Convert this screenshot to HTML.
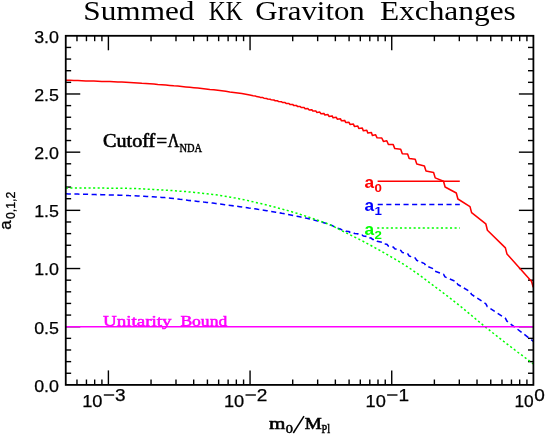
<!DOCTYPE html>
<html><head><meta charset="utf-8"><title>Summed KK Graviton Exchanges</title>
<style>
html,body{margin:0;padding:0;background:#fff;}
body{width:547px;height:436px;overflow:hidden;}
svg{display:block;will-change:transform;}
text{font-family:"Liberation Sans",sans-serif;fill:#000;}
.tk{font-size:16.5px;stroke:#000;stroke-width:0.25px;}
.ser,.ser text{font-family:"Liberation Serif",serif;}
</style></head><body>
<svg width="547" height="436" viewBox="0 0 547 436">
<rect width="547" height="436" fill="#fff"/>
<g class="ser" font-size="26.8">
<text x="83.3" y="20.3" textLength="111.2" lengthAdjust="spacingAndGlyphs">Summed</text>
<text x="208.7" y="20.3" textLength="33.9" lengthAdjust="spacingAndGlyphs">KK</text>
<text x="255.2" y="20.3" textLength="109.6" lengthAdjust="spacingAndGlyphs">Graviton</text>
<text x="379.9" y="20.3" textLength="135.9" lengthAdjust="spacingAndGlyphs">Exchanges</text>
</g>
<g><line x1="76.97" y1="384.90" x2="76.97" y2="379.50" stroke="#000" stroke-width="1.4"/><line x1="76.97" y1="35.80" x2="76.97" y2="41.20" stroke="#000" stroke-width="1.4"/><line x1="86.45" y1="384.90" x2="86.45" y2="379.50" stroke="#000" stroke-width="1.4"/><line x1="86.45" y1="35.80" x2="86.45" y2="41.20" stroke="#000" stroke-width="1.4"/><line x1="94.67" y1="384.90" x2="94.67" y2="379.50" stroke="#000" stroke-width="1.4"/><line x1="94.67" y1="35.80" x2="94.67" y2="41.20" stroke="#000" stroke-width="1.4"/><line x1="101.91" y1="384.90" x2="101.91" y2="379.50" stroke="#000" stroke-width="1.4"/><line x1="101.91" y1="35.80" x2="101.91" y2="41.20" stroke="#000" stroke-width="1.4"/><line x1="108.40" y1="384.90" x2="108.40" y2="370.40" stroke="#000" stroke-width="1.4"/><line x1="108.40" y1="35.80" x2="108.40" y2="50.30" stroke="#000" stroke-width="1.4"/><line x1="151.04" y1="384.90" x2="151.04" y2="379.50" stroke="#000" stroke-width="1.4"/><line x1="151.04" y1="35.80" x2="151.04" y2="41.20" stroke="#000" stroke-width="1.4"/><line x1="175.99" y1="384.90" x2="175.99" y2="379.50" stroke="#000" stroke-width="1.4"/><line x1="175.99" y1="35.80" x2="175.99" y2="41.20" stroke="#000" stroke-width="1.4"/><line x1="193.69" y1="384.90" x2="193.69" y2="379.50" stroke="#000" stroke-width="1.4"/><line x1="193.69" y1="35.80" x2="193.69" y2="41.20" stroke="#000" stroke-width="1.4"/><line x1="207.42" y1="384.90" x2="207.42" y2="379.50" stroke="#000" stroke-width="1.4"/><line x1="207.42" y1="35.80" x2="207.42" y2="41.20" stroke="#000" stroke-width="1.4"/><line x1="218.64" y1="384.90" x2="218.64" y2="379.50" stroke="#000" stroke-width="1.4"/><line x1="218.64" y1="35.80" x2="218.64" y2="41.20" stroke="#000" stroke-width="1.4"/><line x1="228.12" y1="384.90" x2="228.12" y2="379.50" stroke="#000" stroke-width="1.4"/><line x1="228.12" y1="35.80" x2="228.12" y2="41.20" stroke="#000" stroke-width="1.4"/><line x1="236.34" y1="384.90" x2="236.34" y2="379.50" stroke="#000" stroke-width="1.4"/><line x1="236.34" y1="35.80" x2="236.34" y2="41.20" stroke="#000" stroke-width="1.4"/><line x1="243.58" y1="384.90" x2="243.58" y2="379.50" stroke="#000" stroke-width="1.4"/><line x1="243.58" y1="35.80" x2="243.58" y2="41.20" stroke="#000" stroke-width="1.4"/><line x1="250.06" y1="384.90" x2="250.06" y2="370.40" stroke="#000" stroke-width="1.4"/><line x1="250.06" y1="35.80" x2="250.06" y2="50.30" stroke="#000" stroke-width="1.4"/><line x1="292.71" y1="384.90" x2="292.71" y2="379.50" stroke="#000" stroke-width="1.4"/><line x1="292.71" y1="35.80" x2="292.71" y2="41.20" stroke="#000" stroke-width="1.4"/><line x1="317.66" y1="384.90" x2="317.66" y2="379.50" stroke="#000" stroke-width="1.4"/><line x1="317.66" y1="35.80" x2="317.66" y2="41.20" stroke="#000" stroke-width="1.4"/><line x1="335.36" y1="384.90" x2="335.36" y2="379.50" stroke="#000" stroke-width="1.4"/><line x1="335.36" y1="35.80" x2="335.36" y2="41.20" stroke="#000" stroke-width="1.4"/><line x1="349.09" y1="384.90" x2="349.09" y2="379.50" stroke="#000" stroke-width="1.4"/><line x1="349.09" y1="35.80" x2="349.09" y2="41.20" stroke="#000" stroke-width="1.4"/><line x1="360.30" y1="384.90" x2="360.30" y2="379.50" stroke="#000" stroke-width="1.4"/><line x1="360.30" y1="35.80" x2="360.30" y2="41.20" stroke="#000" stroke-width="1.4"/><line x1="369.79" y1="384.90" x2="369.79" y2="379.50" stroke="#000" stroke-width="1.4"/><line x1="369.79" y1="35.80" x2="369.79" y2="41.20" stroke="#000" stroke-width="1.4"/><line x1="378.00" y1="384.90" x2="378.00" y2="379.50" stroke="#000" stroke-width="1.4"/><line x1="378.00" y1="35.80" x2="378.00" y2="41.20" stroke="#000" stroke-width="1.4"/><line x1="385.25" y1="384.90" x2="385.25" y2="379.50" stroke="#000" stroke-width="1.4"/><line x1="385.25" y1="35.80" x2="385.25" y2="41.20" stroke="#000" stroke-width="1.4"/><line x1="391.73" y1="384.90" x2="391.73" y2="370.40" stroke="#000" stroke-width="1.4"/><line x1="391.73" y1="35.80" x2="391.73" y2="50.30" stroke="#000" stroke-width="1.4"/><line x1="434.38" y1="384.90" x2="434.38" y2="379.50" stroke="#000" stroke-width="1.4"/><line x1="434.38" y1="35.80" x2="434.38" y2="41.20" stroke="#000" stroke-width="1.4"/><line x1="459.32" y1="384.90" x2="459.32" y2="379.50" stroke="#000" stroke-width="1.4"/><line x1="459.32" y1="35.80" x2="459.32" y2="41.20" stroke="#000" stroke-width="1.4"/><line x1="477.02" y1="384.90" x2="477.02" y2="379.50" stroke="#000" stroke-width="1.4"/><line x1="477.02" y1="35.80" x2="477.02" y2="41.20" stroke="#000" stroke-width="1.4"/><line x1="490.75" y1="384.90" x2="490.75" y2="379.50" stroke="#000" stroke-width="1.4"/><line x1="490.75" y1="35.80" x2="490.75" y2="41.20" stroke="#000" stroke-width="1.4"/><line x1="501.97" y1="384.90" x2="501.97" y2="379.50" stroke="#000" stroke-width="1.4"/><line x1="501.97" y1="35.80" x2="501.97" y2="41.20" stroke="#000" stroke-width="1.4"/><line x1="511.46" y1="384.90" x2="511.46" y2="379.50" stroke="#000" stroke-width="1.4"/><line x1="511.46" y1="35.80" x2="511.46" y2="41.20" stroke="#000" stroke-width="1.4"/><line x1="519.67" y1="384.90" x2="519.67" y2="379.50" stroke="#000" stroke-width="1.4"/><line x1="519.67" y1="35.80" x2="519.67" y2="41.20" stroke="#000" stroke-width="1.4"/><line x1="526.92" y1="384.90" x2="526.92" y2="379.50" stroke="#000" stroke-width="1.4"/><line x1="526.92" y1="35.80" x2="526.92" y2="41.20" stroke="#000" stroke-width="1.4"/><line x1="65.75" y1="373.26" x2="71.15" y2="373.26" stroke="#000" stroke-width="1.4"/><line x1="533.40" y1="373.26" x2="528.00" y2="373.26" stroke="#000" stroke-width="1.4"/><line x1="65.75" y1="361.63" x2="71.15" y2="361.63" stroke="#000" stroke-width="1.4"/><line x1="533.40" y1="361.63" x2="528.00" y2="361.63" stroke="#000" stroke-width="1.4"/><line x1="65.75" y1="349.99" x2="71.15" y2="349.99" stroke="#000" stroke-width="1.4"/><line x1="533.40" y1="349.99" x2="528.00" y2="349.99" stroke="#000" stroke-width="1.4"/><line x1="65.75" y1="338.35" x2="71.15" y2="338.35" stroke="#000" stroke-width="1.4"/><line x1="533.40" y1="338.35" x2="528.00" y2="338.35" stroke="#000" stroke-width="1.4"/><line x1="65.75" y1="326.72" x2="80.25" y2="326.72" stroke="#000" stroke-width="1.4"/><line x1="533.40" y1="326.72" x2="518.90" y2="326.72" stroke="#000" stroke-width="1.4"/><line x1="65.75" y1="315.08" x2="71.15" y2="315.08" stroke="#000" stroke-width="1.4"/><line x1="533.40" y1="315.08" x2="528.00" y2="315.08" stroke="#000" stroke-width="1.4"/><line x1="65.75" y1="303.44" x2="71.15" y2="303.44" stroke="#000" stroke-width="1.4"/><line x1="533.40" y1="303.44" x2="528.00" y2="303.44" stroke="#000" stroke-width="1.4"/><line x1="65.75" y1="291.81" x2="71.15" y2="291.81" stroke="#000" stroke-width="1.4"/><line x1="533.40" y1="291.81" x2="528.00" y2="291.81" stroke="#000" stroke-width="1.4"/><line x1="65.75" y1="280.17" x2="71.15" y2="280.17" stroke="#000" stroke-width="1.4"/><line x1="533.40" y1="280.17" x2="528.00" y2="280.17" stroke="#000" stroke-width="1.4"/><line x1="65.75" y1="268.53" x2="80.25" y2="268.53" stroke="#000" stroke-width="1.4"/><line x1="533.40" y1="268.53" x2="518.90" y2="268.53" stroke="#000" stroke-width="1.4"/><line x1="65.75" y1="256.90" x2="71.15" y2="256.90" stroke="#000" stroke-width="1.4"/><line x1="533.40" y1="256.90" x2="528.00" y2="256.90" stroke="#000" stroke-width="1.4"/><line x1="65.75" y1="245.26" x2="71.15" y2="245.26" stroke="#000" stroke-width="1.4"/><line x1="533.40" y1="245.26" x2="528.00" y2="245.26" stroke="#000" stroke-width="1.4"/><line x1="65.75" y1="233.62" x2="71.15" y2="233.62" stroke="#000" stroke-width="1.4"/><line x1="533.40" y1="233.62" x2="528.00" y2="233.62" stroke="#000" stroke-width="1.4"/><line x1="65.75" y1="221.99" x2="71.15" y2="221.99" stroke="#000" stroke-width="1.4"/><line x1="533.40" y1="221.99" x2="528.00" y2="221.99" stroke="#000" stroke-width="1.4"/><line x1="65.75" y1="210.35" x2="80.25" y2="210.35" stroke="#000" stroke-width="1.4"/><line x1="533.40" y1="210.35" x2="518.90" y2="210.35" stroke="#000" stroke-width="1.4"/><line x1="65.75" y1="198.71" x2="71.15" y2="198.71" stroke="#000" stroke-width="1.4"/><line x1="533.40" y1="198.71" x2="528.00" y2="198.71" stroke="#000" stroke-width="1.4"/><line x1="65.75" y1="187.08" x2="71.15" y2="187.08" stroke="#000" stroke-width="1.4"/><line x1="533.40" y1="187.08" x2="528.00" y2="187.08" stroke="#000" stroke-width="1.4"/><line x1="65.75" y1="175.44" x2="71.15" y2="175.44" stroke="#000" stroke-width="1.4"/><line x1="533.40" y1="175.44" x2="528.00" y2="175.44" stroke="#000" stroke-width="1.4"/><line x1="65.75" y1="163.80" x2="71.15" y2="163.80" stroke="#000" stroke-width="1.4"/><line x1="533.40" y1="163.80" x2="528.00" y2="163.80" stroke="#000" stroke-width="1.4"/><line x1="65.75" y1="152.17" x2="80.25" y2="152.17" stroke="#000" stroke-width="1.4"/><line x1="533.40" y1="152.17" x2="518.90" y2="152.17" stroke="#000" stroke-width="1.4"/><line x1="65.75" y1="140.53" x2="71.15" y2="140.53" stroke="#000" stroke-width="1.4"/><line x1="533.40" y1="140.53" x2="528.00" y2="140.53" stroke="#000" stroke-width="1.4"/><line x1="65.75" y1="128.89" x2="71.15" y2="128.89" stroke="#000" stroke-width="1.4"/><line x1="533.40" y1="128.89" x2="528.00" y2="128.89" stroke="#000" stroke-width="1.4"/><line x1="65.75" y1="117.26" x2="71.15" y2="117.26" stroke="#000" stroke-width="1.4"/><line x1="533.40" y1="117.26" x2="528.00" y2="117.26" stroke="#000" stroke-width="1.4"/><line x1="65.75" y1="105.62" x2="71.15" y2="105.62" stroke="#000" stroke-width="1.4"/><line x1="533.40" y1="105.62" x2="528.00" y2="105.62" stroke="#000" stroke-width="1.4"/><line x1="65.75" y1="93.98" x2="80.25" y2="93.98" stroke="#000" stroke-width="1.4"/><line x1="533.40" y1="93.98" x2="518.90" y2="93.98" stroke="#000" stroke-width="1.4"/><line x1="65.75" y1="82.35" x2="71.15" y2="82.35" stroke="#000" stroke-width="1.4"/><line x1="533.40" y1="82.35" x2="528.00" y2="82.35" stroke="#000" stroke-width="1.4"/><line x1="65.75" y1="70.71" x2="71.15" y2="70.71" stroke="#000" stroke-width="1.4"/><line x1="533.40" y1="70.71" x2="528.00" y2="70.71" stroke="#000" stroke-width="1.4"/><line x1="65.75" y1="59.07" x2="71.15" y2="59.07" stroke="#000" stroke-width="1.4"/><line x1="533.40" y1="59.07" x2="528.00" y2="59.07" stroke="#000" stroke-width="1.4"/><line x1="65.75" y1="47.44" x2="71.15" y2="47.44" stroke="#000" stroke-width="1.4"/><line x1="533.40" y1="47.44" x2="528.00" y2="47.44" stroke="#000" stroke-width="1.4"/></g>
<g fill="none" stroke-linejoin="round">
<path d="M65.8 80.2 L69.8 80.3 L73.8 80.5 L77.8 80.6 L81.8 80.7 L85.8 80.9 L89.8 81.0 L93.8 81.1 L97.8 81.2 L101.8 81.4 L105.8 81.5 L109.8 81.6 L113.8 81.8 L117.8 82.0 L121.8 82.1 L125.8 82.3 L129.8 82.5 L133.8 82.7 L137.8 82.9 L141.8 83.2 L145.8 83.4 L149.8 83.7 L153.8 84.0 L157.8 84.4 L161.8 84.7 L165.8 85.0 L169.8 85.4 L173.8 85.8 L177.8 86.1 L181.8 86.5 L185.8 86.9 L189.8 87.3 L193.8 87.7 L197.8 88.1 L201.8 88.5 L205.8 88.9 L209.8 89.4 L213.8 89.8 L217.8 90.3 L221.8 90.8 L225.8 91.3 L229.8 91.9 L233.8 92.4 L237.8 93.0 L241.8 93.6 L245.8 94.3 L249.8 95.0 L252.0 95.4 L253.0 95.8 L255.6 96.1 L256.6 96.6 L259.2 96.9 L260.2 97.4 L262.9 97.6 L263.9 98.2 L266.5 98.4 L267.5 99.0 L270.2 99.2 L271.2 99.8 L273.9 100.0 L274.9 100.7 L277.6 100.8 L278.6 101.6 L281.4 101.7 L282.4 102.5 L285.1 102.6 L286.1 103.4 L288.9 103.5 L289.9 104.4 L292.6 104.4 L293.6 105.4 L296.4 105.4 L297.4 106.4 L300.2 106.5 L301.2 107.5 L304.1 107.5 L305.1 108.7 L308.0 108.6 L309.0 109.9 L311.9 109.8 L312.9 111.1 L315.8 110.9 L316.8 112.4 L319.8 112.1 L320.8 113.7 L323.9 113.4 L324.9 115.0 L328.0 114.6 L329.0 116.4 L332.1 115.9 L333.1 117.8 L336.3 117.3 L337.3 119.2 L340.5 118.8 L341.5 120.8 L344.7 120.4 L345.7 122.5 L349.0 122.2 L350.0 124.4 L353.4 124.1 L354.4 126.4 L357.8 126.0 L358.8 128.5 L362.3 128.1 L363.3 130.7 L366.8 130.2 L367.8 133.0 L371.4 132.5 L372.4 135.4 L375.5 134.7 L377.1 137.8 L381.8 138.0 L383.4 141.4 L386.8 140.8 L388.4 144.5 L393.2 144.6 L394.8 148.6 L400.7 149.3 L402.3 153.7 L407.6 153.9 L409.2 158.5 L415.2 159.2 L416.8 164.1 L424.4 165.9 L426.0 171.1 L433.6 172.5 L435.2 177.9 L443.5 181.2 L445.1 187.0 L456.3 193.0 L457.9 199.0 L470.0 206.6 L471.6 212.6 L485.8 223.8 L487.4 230.2 L505.4 247.9 L507.0 254.1 L531.6 281.5 L533.2 287.2" stroke="#f00" stroke-width="1.55"/>
<path d="M65.8 193.8 L68.8 193.9 L71.8 194.0 L74.8 194.0 L77.8 194.1 L80.8 194.2 L83.8 194.3 L86.8 194.3 L89.8 194.4 L92.8 194.5 L95.8 194.6 L98.8 194.6 L101.8 194.7 L104.8 194.8 L107.8 194.9 L110.8 195.0 L113.8 195.0 L116.8 195.1 L119.8 195.2 L122.8 195.3 L125.8 195.4 L128.8 195.6 L131.8 195.7 L134.8 195.8 L137.8 195.9 L140.8 196.1 L143.8 196.2 L146.8 196.4 L149.8 196.6 L152.8 196.8 L155.8 197.0 L158.8 197.2 L161.8 197.4 L164.8 197.6 L167.8 197.9 L170.8 198.2 L173.8 198.6 L176.8 198.9 L179.8 199.3 L182.8 199.6 L185.8 200.0 L188.8 200.4 L191.8 200.7 L194.8 201.0 L197.8 201.4 L200.8 201.7 L203.8 202.1 L206.8 202.4 L209.8 202.8 L212.8 203.1 L215.8 203.5 L218.8 203.9 L221.8 204.3 L224.8 204.7 L227.8 205.1 L230.8 205.5 L233.8 205.9 L236.8 206.3 L239.8 206.7 L242.8 207.1 L245.8 207.5 L248.8 208.0 L251.8 208.4 L254.8 208.8 L257.8 209.3 L260.8 209.7 L263.8 210.2 L266.8 210.7 L269.8 211.2 L272.8 211.7 L275.8 212.2 L278.8 212.7 L281.8 213.3 L284.8 213.8 L287.8 214.4 L290.8 215.0 L293.8 215.6 L296.8 216.2 L299.8 216.8 L302.8 217.4 L305.8 218.1 L308.8 218.7 L311.8 219.4 L314.8 220.2 L317.8 220.9 L320.8 221.8 L323.8 222.7 L326.8 223.7 L329.8 224.7 L331.9 225.4 L333.3 226.2 L336.1 227.2 L337.5 228.1 L340.3 228.9 L341.7 229.8 L344.5 230.3 L345.9 231.2 L348.8 231.5 L350.2 232.5 L353.2 232.6 L354.6 233.6 L357.6 233.7 L359.0 234.8 L362.1 235.0 L363.5 236.1 L366.6 236.4 L368.0 237.7 L371.2 238.1 L372.6 239.4 L375.6 239.8 L377.0 241.2 L381.9 242.3 L383.3 243.8 L386.9 244.3 L388.3 246.0 L393.3 247.1 L394.7 248.8 L400.8 250.4 L402.2 252.4 L407.7 253.8 L409.1 255.9 L415.3 258.1 L416.7 260.3 L424.5 263.6 L425.9 265.9 L433.7 268.9 L435.1 271.3 L443.6 274.3 L445.0 276.9 L456.4 281.8 L457.8 284.5 L470.1 291.6 L471.5 294.4 L485.9 303.8 L487.3 306.6 L505.5 318.4 L506.9 321.2 L533.4 341.3" stroke="#00f" stroke-width="1.55" stroke-dasharray="5.1 3.5"/>
<path d="M65.8 187.9 L68.8 187.9 L71.8 187.9 L74.8 188.0 L77.8 188.0 L80.8 188.0 L83.8 188.0 L86.8 188.0 L89.8 188.0 L92.8 188.1 L95.8 188.1 L98.8 188.1 L101.8 188.1 L104.8 188.1 L107.8 188.2 L110.8 188.2 L113.8 188.2 L116.8 188.2 L119.8 188.3 L122.8 188.3 L125.8 188.3 L128.8 188.4 L131.8 188.4 L134.8 188.5 L137.8 188.6 L140.8 188.7 L143.8 188.9 L146.8 189.1 L149.8 189.2 L152.8 189.4 L155.8 189.6 L158.8 189.8 L161.8 190.0 L164.8 190.1 L167.8 190.3 L170.8 190.5 L173.8 190.7 L176.8 190.9 L179.8 191.2 L182.8 191.4 L185.8 191.6 L188.8 191.9 L191.8 192.2 L194.8 192.4 L197.8 192.7 L200.8 193.0 L203.8 193.4 L206.8 193.7 L209.8 194.1 L212.8 194.4 L215.8 194.8 L218.8 195.2 L221.8 195.7 L224.8 196.2 L227.8 196.7 L230.8 197.2 L233.8 197.8 L236.8 198.3 L239.8 198.9 L242.8 199.5 L245.8 200.1 L248.8 200.8 L251.8 201.5 L254.8 202.2 L257.8 202.9 L260.8 203.6 L263.8 204.3 L266.8 205.1 L269.8 205.8 L272.8 206.6 L275.8 207.4 L278.8 208.2 L281.8 209.0 L284.8 209.8 L287.8 210.6 L290.8 211.5 L293.8 212.4 L296.8 213.3 L299.8 214.3 L302.8 215.2 L305.8 216.2 L308.8 217.2 L311.8 218.2 L314.8 219.3 L317.8 220.3 L320.8 221.4 L323.8 222.4 L326.8 223.5 L329.8 224.7 L332.8 226.1 L335.8 227.6 L338.8 229.2 L341.8 230.7 L344.8 232.2 L347.8 233.7 L350.8 235.2 L353.8 236.7 L356.8 238.1 L359.8 239.7 L362.8 241.2 L365.8 242.8 L368.8 244.4 L371.8 246.0 L374.8 247.7 L377.8 249.3 L380.8 251.0 L383.8 252.7 L386.8 254.4 L389.8 256.2 L392.8 257.9 L395.8 259.6 L398.8 261.4 L401.8 263.2 L404.8 265.1 L407.8 267.0 L410.8 269.0 L413.8 271.1 L416.8 273.2 L419.8 275.4 L422.8 277.6 L425.8 279.8 L428.8 282.1 L431.8 284.3 L434.8 286.5 L437.8 288.8 L440.8 291.0 L443.8 293.3 L446.8 295.6 L449.8 297.9 L452.8 300.3 L455.8 302.6 L458.8 305.0 L461.8 307.4 L464.8 309.9 L467.8 312.4 L470.8 314.9 L473.8 317.4 L476.8 319.9 L479.8 322.4 L482.8 324.9 L485.8 327.3 L488.8 329.7 L491.8 332.1 L494.8 334.4 L497.8 336.8 L500.8 339.1 L503.8 341.5 L506.8 343.8 L509.8 346.1 L512.8 348.4 L515.8 350.7 L518.8 353.0 L521.8 355.2 L524.8 357.5 L527.8 359.7 L530.8 362.0 L533.4 364.0" stroke="#0f0" stroke-width="1.5" stroke-dasharray="2.1 2.45"/>
<line x1="65.75" y1="326.8" x2="533.4" y2="326.8" stroke="#f0f" stroke-width="1.6"/>
<line x1="377.6" y1="181.2" x2="459.8" y2="181.2" stroke="#f00" stroke-width="1.5"/>
<line x1="377.7" y1="204.5" x2="459.8" y2="204.5" stroke="#00f" stroke-width="1.55" stroke-dasharray="5.1 3.5"/>
<line x1="377.2" y1="228" x2="459.8" y2="228" stroke="#0f0" stroke-width="1.5" stroke-dasharray="2.1 2.45"/>
</g>
<rect x="65.75" y="35.8" width="467.65" height="349.09999999999997" fill="none" stroke="#000" stroke-width="1.8"/>
<text x="34.2" y="391.7" textLength="24.8" lengthAdjust="spacingAndGlyphs" class="tk">0.0</text>
<text x="34.2" y="333.5" textLength="24.8" lengthAdjust="spacingAndGlyphs" class="tk">0.5</text>
<text x="34.2" y="275.3" textLength="24.8" lengthAdjust="spacingAndGlyphs" class="tk">1.0</text>
<text x="34.2" y="217.2" textLength="24.8" lengthAdjust="spacingAndGlyphs" class="tk">1.5</text>
<text x="34.2" y="159.0" textLength="24.8" lengthAdjust="spacingAndGlyphs" class="tk">2.0</text>
<text x="34.2" y="100.8" textLength="24.8" lengthAdjust="spacingAndGlyphs" class="tk">2.5</text>
<text x="34.2" y="42.6" textLength="24.8" lengthAdjust="spacingAndGlyphs" class="tk">3.0</text>
<text x="82.2" y="406.8" class="tk" textLength="20.3" lengthAdjust="spacingAndGlyphs">10</text><rect x="103.8" y="394.3" width="10.4" height="1.4" fill="#000"/><text x="115.1" y="400.7" class="tk" textLength="10.6" lengthAdjust="spacingAndGlyphs">3</text>
<text x="223.9" y="406.8" class="tk" textLength="20.3" lengthAdjust="spacingAndGlyphs">10</text><rect x="245.5" y="394.3" width="10.4" height="1.4" fill="#000"/><text x="256.8" y="400.7" class="tk" textLength="10.6" lengthAdjust="spacingAndGlyphs">2</text>
<text x="365.5" y="406.8" class="tk" textLength="20.3" lengthAdjust="spacingAndGlyphs">10</text><rect x="387.1" y="394.3" width="10.4" height="1.4" fill="#000"/><text x="398.4" y="400.7" class="tk" textLength="10.6" lengthAdjust="spacingAndGlyphs">1</text>
<text x="514.4" y="406.8" class="tk" textLength="19.3" lengthAdjust="spacingAndGlyphs">10</text><text x="534.3" y="400.7" class="tk" textLength="10.6" lengthAdjust="spacingAndGlyphs">0</text>

<g class="ser" font-weight="bold">
<text x="103.0" y="146.9" font-size="18" font-weight="normal" stroke="#000" stroke-width="0.6" textLength="52.3" lengthAdjust="spacingAndGlyphs">Cutoff</text>
<text x="156.6" y="146.9" font-size="18" font-weight="normal" stroke="#000" stroke-width="0.6" textLength="10.6" lengthAdjust="spacingAndGlyphs">=</text>
<text x="167.7" y="146.9" font-size="18" font-weight="normal" stroke="#000" stroke-width="0.6" textLength="11.6" lengthAdjust="spacingAndGlyphs">&#923;</text>
<text x="179.4" y="151.5" font-size="11.5" font-weight="normal" stroke="#000" stroke-width="0.45" textLength="22.6" lengthAdjust="spacingAndGlyphs">NDA</text>
<text x="103.0" y="326.3" font-size="15.5" font-weight="normal" stroke="#f0f" stroke-width="0.55" style="fill:#f0f" textLength="68.6" lengthAdjust="spacingAndGlyphs">Unitarity</text>
<text x="180.4" y="326.3" font-size="15.5" font-weight="normal" stroke="#f0f" stroke-width="0.55" style="fill:#f0f" textLength="46.8" lengthAdjust="spacingAndGlyphs">Bound</text>
</g>
<g font-weight="bold">
<text x="364.4" y="187.9" font-size="16" style="fill:#f00" textLength="9.6" lengthAdjust="spacingAndGlyphs">a</text><text x="374.4" y="192" font-size="11.5" style="fill:#f00" textLength="7.4" lengthAdjust="spacingAndGlyphs">0</text>
<text x="364.4" y="211.2" font-size="16" style="fill:#00f" textLength="9.6" lengthAdjust="spacingAndGlyphs">a</text><text x="374.4" y="215.3" font-size="11.5" style="fill:#00f" textLength="7.4" lengthAdjust="spacingAndGlyphs">1</text>
<text x="364.4" y="234.7" font-size="16" style="fill:#0f0" textLength="9.6" lengthAdjust="spacingAndGlyphs">a</text><text x="374.4" y="238.8" font-size="11.5" style="fill:#0f0" textLength="7.4" lengthAdjust="spacingAndGlyphs">2</text>
</g>
<g transform="translate(11.1,229.7) rotate(-90)" stroke="#000" stroke-width="0.3">
<text x="0" y="0" font-size="17">a</text><text x="10.6" y="3.5" font-size="12.2" textLength="27.4" lengthAdjust="spacingAndGlyphs">0,1,2</text>
</g>
<g class="ser" font-weight="bold">
<text x="269.0" y="428.6" font-size="17.5" font-weight="normal" stroke="#000" stroke-width="0.6" textLength="16.4" lengthAdjust="spacingAndGlyphs">m</text>
<text x="285.7" y="433.2" font-size="11.8" font-weight="normal" stroke="#000" stroke-width="0.45" textLength="7.2" lengthAdjust="spacingAndGlyphs">0</text>
<line x1="293.3" y1="433" x2="304.0" y2="416.2" stroke="#000" stroke-width="1.5"/>
<text x="304.8" y="428.6" font-size="16.5" font-weight="normal" stroke="#000" stroke-width="0.6" textLength="17" lengthAdjust="spacingAndGlyphs">M</text>
<text x="321.6" y="433.2" font-size="11.5" font-weight="normal" stroke="#000" stroke-width="0.45" textLength="8.6" lengthAdjust="spacingAndGlyphs">Pl</text>
</g>
</svg>
</body></html>
